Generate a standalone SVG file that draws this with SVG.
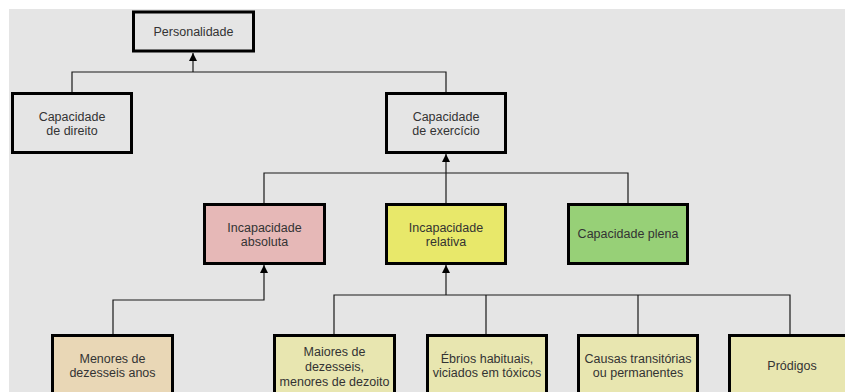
<svg xmlns="http://www.w3.org/2000/svg" width="845" height="392" viewBox="0 0 845 392">
<defs>
<marker id="arr" viewBox="0 0 10 10" refX="10" refY="5" markerWidth="8" markerHeight="8" markerUnits="userSpaceOnUse" orient="auto">
<path d="M0,0 L10,5 L0,10 Z" fill="#000"/>
</marker>
<style>
.box{stroke:#000;stroke-width:3}
.g{fill:#e5e5e5}
.t{font-family:"Liberation Sans",Arial,sans-serif;font-size:12.5px;fill:#333;text-anchor:middle}
.c{fill:none;stroke:#1a1a1a;stroke-width:1.2}
</style>
</defs>
<rect x="0" y="0" width="845" height="392" fill="#ffffff"/>
<rect x="9" y="9" width="836" height="383" fill="#e5e5e5"/>
<g id="connectors">
<path class="c" d="M72,92 V72 H446 V92"/>
<path class="c" d="M193,72 V53" marker-end="url(#arr)"/>
<path class="c" d="M264,203 V173 H628 V203"/>
<path class="c" d="M446,203 V154" marker-end="url(#arr)"/>
<path class="c" d="M113,334 V300 H264 V265" marker-end="url(#arr)"/>
<path class="c" d="M334,334 V295 H790 V334"/>
<path class="c" d="M486,295 V334 M638,295 V334"/>
<path class="c" d="M446,295 V265" marker-end="url(#arr)"/>
</g>
<g id="personalidade">
<rect class="box g" x="133.5" y="12" width="120" height="39"/>
<text class="t" x="193.5" y="36">Personalidade</text>
</g>
<g id="capacidade-direito">
<rect class="box g" x="12.5" y="93.5" width="119" height="59"/>
<text class="t" x="72" y="121">Capacidade</text>
<text class="t" x="72" y="135">de direito</text>
</g>
<g id="capacidade-exercicio">
<rect class="box g" x="386.5" y="93.5" width="119" height="59"/>
<text class="t" x="446" y="121">Capacidade</text>
<text class="t" x="446" y="135">de exercício</text>
</g>
<g id="incapacidade-absoluta">
<rect class="box" fill="#e6b8b7" x="204.5" y="204.5" width="120" height="59"/>
<text class="t" x="264.5" y="232">Incapacidade</text>
<text class="t" x="264.5" y="246">absoluta</text>
</g>
<g id="incapacidade-relativa">
<rect class="box" fill="#e8e86a" x="386.5" y="204.5" width="119" height="59"/>
<text class="t" x="446" y="232">Incapacidade</text>
<text class="t" x="446" y="246">relativa</text>
</g>
<g id="capacidade-plena">
<rect class="box" fill="#97d077" x="568.5" y="204.5" width="119" height="59"/>
<text class="t" x="628" y="238">Capacidade plena</text>
</g>
<g id="menores-dezesseis">
<rect class="box" fill="#e9d7b6" x="52.5" y="335.5" width="120" height="60"/>
<text class="t" x="112.5" y="363">Menores de</text>
<text class="t" x="112.5" y="377">dezesseis anos</text>
</g>
<g id="maiores-dezesseis">
<rect class="box" fill="#e8e6b0" x="274.5" y="335.5" width="120" height="60"/>
<text class="t" x="334.5" y="356">Maiores de</text>
<text class="t" x="334.5" y="371">dezesseis,</text>
<text class="t" x="334.5" y="386">menores de dezoito</text>
</g>
<g id="ebrios">
<rect class="box" fill="#e8e6b0" x="427.5" y="335.5" width="119" height="60"/>
<text class="t" x="487" y="363">Ébrios habituais,</text>
<text class="t" x="487" y="377">viciados em tóxicos</text>
</g>
<g id="causas">
<rect class="box" fill="#e8e6b0" x="578.5" y="335.5" width="119" height="60"/>
<text class="t" x="638" y="363">Causas transitórias</text>
<text class="t" x="638" y="377">ou permanentes</text>
</g>
<g id="prodigos">
<rect class="box" fill="#e8e6b0" x="729.5" y="335.5" width="125" height="60"/>
<text class="t" x="792" y="370">Pródigos</text>
</g>
</svg>
